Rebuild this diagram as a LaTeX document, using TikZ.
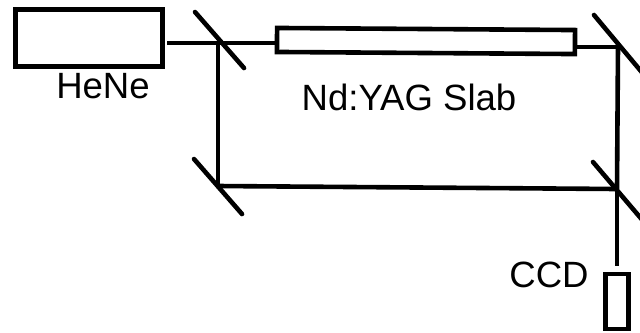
\documentclass[tikz,border=0pt]{standalone}
\usepackage{fontspec}
\setmainfont{Liberation Sans}
\begin{document}
\begin{tikzpicture}[x=0.025cm, y=-0.025cm]
    \tikzset{optbox/.style={rectangle, line width=0.115cm, draw=black, fill=white, inner sep=0pt}}
    \tikzset{beam/.style={line width=0.115cm, black}}
    \tikzset{mirror/.style={line width=0.115cm, black, line cap=round}}
    \tikzset{lbl/.style={font=\fontsize{26}{30}\selectfont, inner sep=0pt}}
    \useasboundingbox (0, 0) rectangle (640, 332);
    % Mirror centres and the free end of the laser beam:
    \coordinate (m1)   at (218, 43);
    \coordinate (m2)   at (218, 186);
    \coordinate (m3)   at (618, 47);
    \coordinate (m4)   at (617, 189);
    \coordinate (hout) at (167, 43);
    \coordinate (cin)  at (617, 266);

    % Beams go under the boxes:
    \draw[beam] (hout) -- (m1);
    \draw[beam] (m1) -- (300, 43);
    \draw[beam] (m1) -- (m2);
    \draw[beam] (m2) -- (m4);
    \draw[beam] (m3) -- (m4);
    \draw[beam] (m4) -- (cin);
    \draw[beam] (550, 47) -- (m3);

    \node[optbox, minimum width=147*0.025cm, minimum height=57.5*0.025cm] (hene) at (89, 38) {};
    \node[optbox, minimum width=298*0.025cm, minimum height=24*0.025cm, rotate=-0.4] (rod) at (426, 41) {};
    \node[optbox, minimum width=23*0.025cm, minimum height=55*0.025cm] (ccd) at (617, 301.5) {};

    % Mirrors:
    \coordinate (m1a) at (195, 12);
    \coordinate (m1b) at (244, 68);
    \coordinate (m2a) at (194, 159);
    \coordinate (m2b) at (242, 214);
    \coordinate (m3a) at (594, 15);
    \coordinate (m3b) at (650, 82);
    \coordinate (m4a) at (593, 162);
    \coordinate (m4b) at (650, 229);
    \draw[mirror] (m1a) -- (m1b);
    \draw[mirror] (m2a) -- (m2b);
    \draw[mirror] (m3a) -- (m3b);
    \draw[mirror] (m4a) -- (m4b);

    \node[lbl] (henelbl) at (103, 86)   {HeNe};
    \node[lbl] (slablbl) at (409, 97)   {Nd:YAG Slab};
    \node[lbl] (ccdlbl)  at (549, 275)  {CCD};
\end{tikzpicture}
\end{document}
